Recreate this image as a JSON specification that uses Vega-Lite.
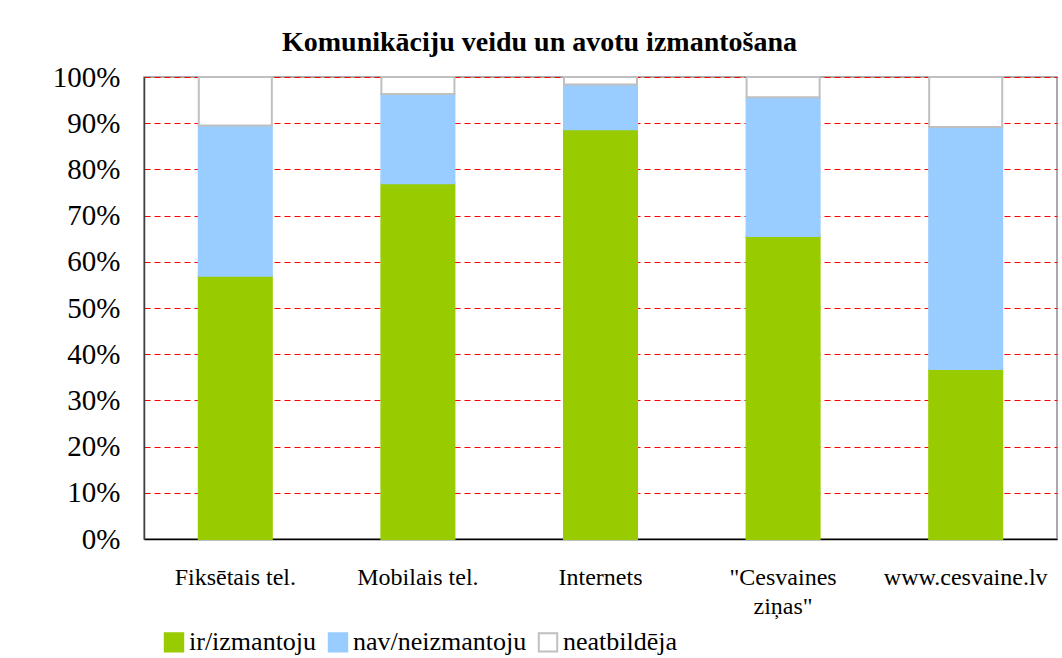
{
  "$schema": "https://vega.github.io/schema/vega-lite/v6.json",
  "autosize": {"type": "none"},
  "width": 913,
  "height": 462,
  "padding": {"left": 144, "top": 77, "right": 5, "bottom": 119},
  "background": "white",
  "title": {
    "text": "Komunikāciju veidu un avotu izmantošana",
    "font": "Liberation Serif",
    "fontSize": 28,
    "fontWeight": "bold",
    "color": "black",
    "anchor": "middle",
    "dx": -61,
    "offset": 6
  },
  "data": {
    "values": [
      {"kategorija": "Fiksētais tel.", "atbilde": "ir/izmantoju", "ord": 1, "vertiba": 0.57},
      {"kategorija": "Fiksētais tel.", "atbilde": "nav/neizmantoju", "ord": 2, "vertiba": 0.325},
      {"kategorija": "Fiksētais tel.", "atbilde": "neatbildēja", "ord": 3, "vertiba": 0.105},
      {"kategorija": "Mobilais tel.", "atbilde": "ir/izmantoju", "ord": 1, "vertiba": 0.77},
      {"kategorija": "Mobilais tel.", "atbilde": "nav/neizmantoju", "ord": 2, "vertiba": 0.193},
      {"kategorija": "Mobilais tel.", "atbilde": "neatbildēja", "ord": 3, "vertiba": 0.037},
      {"kategorija": "Internets", "atbilde": "ir/izmantoju", "ord": 1, "vertiba": 0.887},
      {"kategorija": "Internets", "atbilde": "nav/neizmantoju", "ord": 2, "vertiba": 0.097},
      {"kategorija": "Internets", "atbilde": "neatbildēja", "ord": 3, "vertiba": 0.016},
      {"kategorija": "\"Cesvaines ziņas\"", "atbilde": "ir/izmantoju", "ord": 1, "vertiba": 0.656},
      {"kategorija": "\"Cesvaines ziņas\"", "atbilde": "nav/neizmantoju", "ord": 2, "vertiba": 0.30},
      {"kategorija": "\"Cesvaines ziņas\"", "atbilde": "neatbildēja", "ord": 3, "vertiba": 0.044},
      {"kategorija": "www.cesvaine.lv", "atbilde": "ir/izmantoju", "ord": 1, "vertiba": 0.368},
      {"kategorija": "www.cesvaine.lv", "atbilde": "nav/neizmantoju", "ord": 2, "vertiba": 0.524},
      {"kategorija": "www.cesvaine.lv", "atbilde": "neatbildēja", "ord": 3, "vertiba": 0.108}
    ]
  },
  "mark": {"type": "bar", "strokeWidth": 2},
  "encoding": {
    "x": {
      "field": "kategorija",
      "type": "nominal",
      "sort": null,
      "scale": {"paddingInner": 0.6, "paddingOuter": 0.3},
      "axis": {
        "title": null,
        "labelAngle": 0,
        "labelFont": "Liberation Serif",
        "labelFontSize": 24,
        "labelColor": "black",
        "labelPadding": 26,
        "labelLineHeight": 29,
        "labelOverlap": false,
        "ticks": false,
        "domainColor": "#000000",
        "domainWidth": 1.5,
        "labelExpr": "datum.value == '\"Cesvaines ziņas\"' ? ['\"Cesvaines', 'ziņas\"'] : datum.value"
      }
    },
    "y": {
      "field": "vertiba",
      "type": "quantitative",
      "stack": "zero",
      "scale": {"domain": [0, 1]},
      "axis": {
        "title": null,
        "format": ".0%",
        "values": [0, 0.1, 0.2, 0.3, 0.4, 0.5, 0.6, 0.7, 0.8, 0.9, 1],
        "labelOverlap": false,
        "labelFont": "Liberation Serif, serif",
        "labelFontSize": 29,
        "labelColor": "black",
        "labelPadding": 24,
        "ticks": false,
        "domainColor": "#404040",
        "domainWidth": 1.5,
        "grid": true,
        "gridColor": "#FF0000",
        "gridDash": [6, 4],
        "gridWidth": 1
      }
    },
    "order": {"field": "ord", "type": "quantitative"},
    "fill": {
      "field": "atbilde",
      "type": "nominal",
      "scale": {
        "domain": ["ir/izmantoju", "nav/neizmantoju", "neatbildēja"],
        "range": ["#99CC00", "#99CCFF", "#FFFFFF"]
      },
      "legend": {
        "title": null,
        "orient": "none",
        "direction": "horizontal",
        "legendX": 17,
        "legendY": 552,
        "symbolType": "square",
        "symbolSize": 340,
        "symbolStrokeWidth": 2,
        "labelFont": "Liberation Serif, serif",
        "labelFontSize": 26,
        "labelLimit": 400,
        "labelColor": "black",
        "columnPadding": 7,
        "labelOffset": 2
      }
    },
    "stroke": {
      "field": "atbilde",
      "type": "nominal",
      "scale": {
        "domain": ["ir/izmantoju", "nav/neizmantoju", "neatbildēja"],
        "range": ["#99CC00", "#99CCFF", "#C0C0C0"]
      },
      "legend": null
    }
  },
  "config": {
    "view": {"stroke": "#909090", "strokeWidth": 1.5},
    "axisY": {"labelFont": "Liberation Serif, serif"},
    "legend": {"labelFont": "Liberation Serif, serif", "labelFontSize": 26, "labelColor": "black", "labelLimit": 400}
  }
}
